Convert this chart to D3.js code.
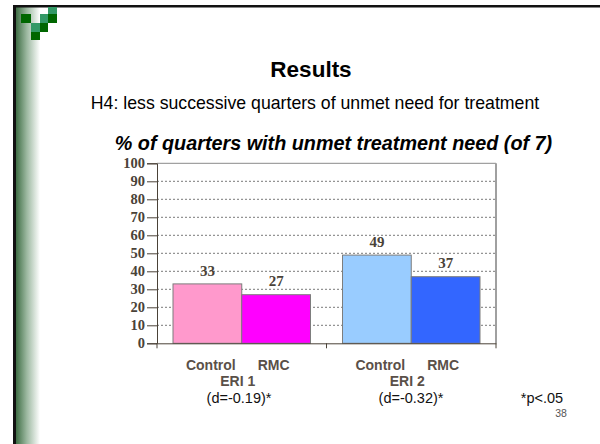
<!DOCTYPE html>
<html>
<head>
<meta charset="utf-8">
<script src="https://cdn.jsdelivr.net/npm/d3@7"></script>
<style>
  html, body { margin: 0; padding: 0; background: #fff; }
  svg { display: block; }
</style>
</head>
<body>
<svg id="chart" width="600" height="444"></svg>
<script>
// Study groups and the two arms within each
const groups = ["ERI 1", "ERI 2"];
const arms = ["Control", "RMC"];
// % of quarters with unmet treatment need, per group and arm
const eri1Values = [33, 27];
const eri2Values = [49, 37];
const barColors = [["#ff99cc", "#ff00ff"], ["#99ccff", "#3366ff"]];
// effect sizes printed under each group
const effectLabels = ["(d=-0.19)*", "(d=-0.32)*"];
const yTicks = [0, 10, 20, 30, 40, 50, 60, 70, 80, 90, 100];

const SANS = "Liberation Sans, Arial, sans-serif";
const SERIF = "Liberation Serif, Times New Roman, serif";
const svg = d3.select("#chart");

// ---- slide frame ----
const defs = svg.append("defs");
const grad = defs.append("linearGradient").attr("id", "edge").attr("x1", 0).attr("x2", 1);
grad.append("stop").attr("offset", 0).attr("stop-color", "#3f6e45");
grad.append("stop").attr("offset", 0.45).attr("stop-color", "#9cb8a0");
grad.append("stop").attr("offset", 1).attr("stop-color", "#ffffff");
svg.append("rect").attr("x", 16).attr("y", 7).attr("width", 24).attr("height", 437).attr("fill", "url(#edge)");
svg.append("rect").attr("x", 13).attr("y", 5).attr("width", 587).attr("height", 2.5).attr("fill", "#111");
svg.append("rect").attr("x", 13).attr("y", 5).attr("width", 3).attr("height", 439).attr("fill", "#111");

// corner mark
const squares = [
  [21, 14, 10, 9, "#006600"], [31, 23, 9, 9, "#339966"], [31, 32, 9, 8, "#006600"],
  [40, 14, 8, 9, "#339966"], [40, 23, 8, 9, "#006600"], [48, 7, 9, 7, "#339966"], [48, 14, 9, 9, "#006600"]
];
svg.selectAll("rect.sq").data(squares).join("rect").attr("class", "sq")
  .attr("x", d => d[0]).attr("y", d => d[1]).attr("width", d => d[2]).attr("height", d => d[3])
  .attr("fill", d => d[4]);

// ---- headings ----
svg.append("text").attr("x", 311).attr("y", 77).attr("text-anchor", "middle")
  .attr("font-family", SANS).attr("font-weight", "bold")
  .attr("font-size", 22.5).text("Results");
svg.append("text").attr("x", 315).attr("y", 109).attr("text-anchor", "middle")
  .attr("font-family", SANS).attr("font-size", 17.7)
  .text("H4: less successive quarters of unmet need for treatment");
svg.append("text").attr("x", 333.5).attr("y", 150).attr("text-anchor", "middle")
  .attr("font-family", SANS).attr("font-weight", "bold")
  .attr("font-style", "italic").attr("font-size", 19.8)
  .text("% of quarters with unmet treatment need (of 7)");

// ---- chart ----
const plot = { left: 157, right: 496, top: 163.3, bottom: 343.3 };
const x0 = d3.scaleBand().domain(groups).range([plot.left, plot.right]);
const x1 = d3.scaleBand().domain(arms).range([16, x0.bandwidth() - 16]);
const y = d3.scaleLinear().domain([0, 100]).range([plot.bottom, plot.top]);

const g = svg.append("g");

// dotted gridlines
g.selectAll("line.grid").data(yTicks.filter(t => t > 0 && t < 100)).join("line")
  .attr("x1", plot.left).attr("x2", plot.right)
  .attr("y1", d => y(d)).attr("y2", d => y(d))
  .attr("stroke", "#7a7a7a").attr("stroke-width", 1).attr("stroke-dasharray", "2,2");

// plot border (top and right)
g.append("line").attr("x1", plot.left).attr("x2", plot.right).attr("y1", y(100)).attr("y2", y(100))
  .attr("stroke", "#8a8a8a").attr("stroke-width", 1);
g.append("line").attr("x1", plot.right).attr("x2", plot.right).attr("y1", y(100)).attr("y2", plot.bottom)
  .attr("stroke", "#a0a0a0").attr("stroke-width", 2);

// bars with value labels
const series = [eri1Values, eri2Values];
groups.forEach((grp, gi) => {
  const gg = g.append("g").attr("transform", `translate(${x0(grp)},0)`);
  const rows = arms.map((a, ai) => ({ arm: a, value: series[gi][ai], color: barColors[gi][ai] }));
  gg.selectAll("rect").data(rows).join("rect")
    .attr("x", d => x1(d.arm)).attr("width", x1.bandwidth())
    .attr("y", d => y(d.value)).attr("height", d => y(0) - y(d.value))
    .attr("fill", d => d.color).attr("stroke", "#7d7d7d").attr("stroke-width", 1);
  gg.selectAll("text").data(rows).join("text")
    .attr("x", d => x1(d.arm) + x1.bandwidth() / 2).attr("y", d => y(d.value) - 8.3)
    .attr("text-anchor", "middle")
    .attr("font-family", SERIF).attr("font-weight", "bold")
    .attr("font-size", 15).attr("fill", "#4a4238").text(d => d.value);
});

// y axis
const yAxis = d3.axisLeft(y).tickValues(yTicks).tickSize(10).tickPadding(2);
const ya = g.append("g").attr("transform", `translate(${plot.left},0)`).call(yAxis);
ya.select(".domain").attr("stroke", "#4a4238");
ya.selectAll(".tick line").attr("stroke", "#4a4238");
ya.selectAll(".tick text").attr("font-family", SERIF)
  .attr("font-weight", "bold").attr("font-size", 14.5).attr("fill", "#4a4238");

// x axis
const xAxis = d3.axisBottom(x0).tickSize(0).tickFormat("");
const xa = g.append("g").attr("transform", `translate(0,${plot.bottom})`).call(xAxis);
xa.select(".domain").attr("stroke", "#4a4238");
xa.selectAll("line.bnd").data([plot.left, x0(groups[1]), plot.right]).join("line")
  .attr("x1", d => d).attr("x2", d => d).attr("y1", 0).attr("y2", 5).attr("stroke", "#4a4238");

// category labels: arm names on the first line, group on the second
groups.forEach(grp => {
  const cx = x0(grp) + x0.bandwidth() / 2 - 4;
  const t = g.append("text").attr("x", cx).attr("y", 369.5).attr("text-anchor", "middle")
    .attr("font-family", SANS).attr("font-weight", "bold")
    .attr("font-size", 14).attr("fill", "#5a5048");
  t.append("tspan").text(arms[0]);
  t.append("tspan").attr("dx", 22).text(arms[1]);
  g.append("text").attr("x", cx).attr("y", 386).attr("text-anchor", "middle")
    .attr("font-family", SANS).attr("font-weight", "bold")
    .attr("font-size", 14).attr("fill", "#5a5048").text(grp);
});

// effect sizes and footnote
const effectX = [239, 411];
effectLabels.forEach((lab, i) => {
  svg.append("text").attr("x", effectX[i]).attr("y", 402.5)
    .attr("text-anchor", "middle").attr("font-family", SANS)
    .attr("font-size", 14.5).attr("fill", "#111").text(lab);
});
svg.append("text").attr("x", 542).attr("y", 402.5).attr("text-anchor", "middle")
  .attr("font-family", SANS).attr("font-size", 14.5)
  .attr("fill", "#111").text("*p<.05");
svg.append("text").attr("x", 561).attr("y", 417).attr("text-anchor", "middle")
  .attr("font-family", SANS).attr("font-size", 10.5)
  .attr("fill", "#555").text("38");
</script>
</body>
</html>
